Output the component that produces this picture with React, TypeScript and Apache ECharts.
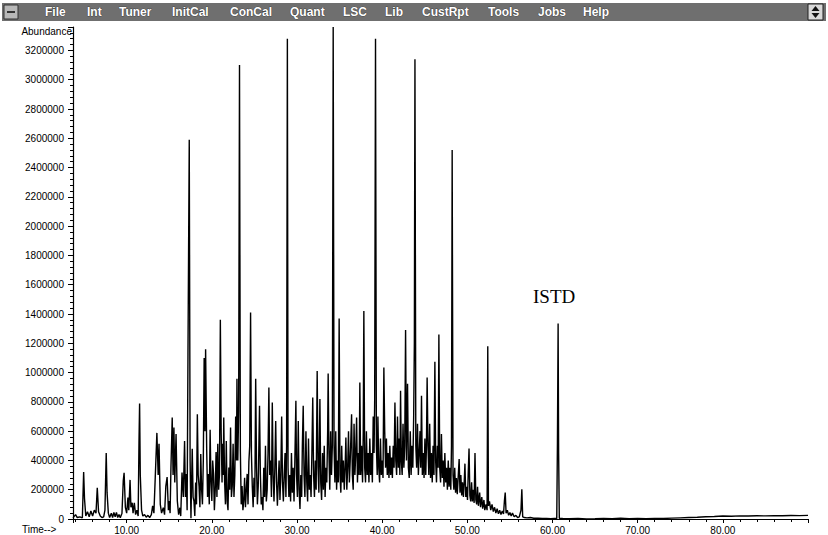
import React, { useEffect, useRef } from "react";
import * as echarts from "echarts";

// Total ion chromatogram: [retention time (min), abundance]
const traceEarly: number[][] = [
  [3.7, 8000], [4.0, 30000], [4.2, 10000], [4.5, 15000], [4.8, 8000], [4.95, 321000], [5.05, 140000], [5.2, 20000],
  [5.4, 50000], [5.6, 15000], [5.8, 55000], [6.0, 20000], [6.2, 60000], [6.4, 40000], [6.55, 214000], [6.7, 50000],
  [6.9, 20000], [7.1, 10000], [7.3, 15000], [7.45, 60000], [7.6, 451000], [7.7, 180000], [7.85, 40000], [8.0, 10000],
  [8.2, 40000], [8.35, 10000], [8.5, 45000], [8.65, 15000], [8.8, 45000], [8.95, 10000], [9.1, 30000], [9.25, 8000],
  [9.45, 40000], [9.6, 260000], [9.7, 315000], [9.85, 80000], [10.0, 40000], [10.15, 146000], [10.25, 60000],
  [10.4, 267000], [10.5, 80000], [10.65, 111000], [10.75, 40000], [10.9, 111000], [11.05, 30000], [11.2, 60000],
  [11.35, 20000], [11.45, 533000], [11.52, 788000], [11.6, 300000], [11.75, 60000], [11.9, 20000], [12.1, 30000],
  [12.3, 12000], [12.5, 25000], [12.7, 10000], [12.9, 30000],
];
const trace13to20: number[][] = [
  [13.05, 89000], [13.2, 40000], [13.4, 351000], [13.55, 588000], [13.7, 300000], [13.8, 513000], [13.95, 100000],
  [14.1, 40000], [14.3, 77000], [14.45, 30000], [14.6, 225000], [14.75, 287000], [14.9, 60000], [15.0, 123000],
  [15.1, 40000], [15.2, 351000], [15.35, 693000], [15.45, 300000], [15.55, 624000], [15.65, 250000], [15.8, 581000],
  [15.95, 123000], [16.1, 30000], [16.25, 77000], [16.35, 20000], [16.5, 317000], [16.65, 150000], [16.8, 533000],
  [16.9, 150000], [17.0, 308000], [17.1, 60000], [17.2, 1126000], [17.35, 2590000], [17.45, 400000], [17.55, 5000],
  [17.7, 479000], [17.8, 150000], [17.9, 123000], [18.0, 20000], [18.1, 250000], [18.2, 100000], [18.3, 716000],
  [18.4, 300000], [18.5, 225000], [18.6, 80000], [18.7, 444000], [18.8, 200000], [18.9, 100000], [19.0, 400000],
  [19.1, 1100000], [19.2, 600000], [19.27, 1160000], [19.4, 465000], [19.5, 150000], [19.6, 308000], [19.7, 100000],
  [19.8, 609000], [19.9, 250000], [20.0, 123000],
];
const trace20to26: number[][] = [
  [20.1, 400000], [20.2, 308000], [20.3, 60000], [20.4, 198000], [20.5, 458000], [20.6, 150000], [20.7, 513000],
  [20.8, 200000], [20.9, 308000], [21.0, 1360000], [21.1, 581000], [21.2, 250000], [21.25, 513000], [21.35, 300000],
  [21.4, 693000], [21.5, 260000], [21.6, 100000], [21.7, 533000], [21.8, 123000], [21.9, 60000], [22.0, 351000],
  [22.1, 200000], [22.2, 624000], [22.3, 150000], [22.4, 225000], [22.5, 513000], [22.6, 150000], [22.7, 300000],
  [22.8, 700000], [22.9, 400000], [22.95, 957000], [23.05, 400000], [23.15, 738000], [23.25, 3100000], [23.35, 465000],
  [23.45, 100000], [23.55, 225000], [23.65, 60000], [23.75, 123000], [23.85, 282000], [23.95, 80000], [24.05, 198000],
  [24.15, 308000], [24.25, 100000], [24.35, 390000], [24.45, 500000], [24.55, 1410000], [24.65, 444000],
  [24.75, 225000], [24.85, 80000], [24.95, 282000], [25.05, 150000], [25.15, 957000], [25.25, 351000], [25.35, 100000],
  [25.45, 225000], [25.6, 773000], [25.7, 308000], [25.8, 100000], [25.9, 150000],
];
const trace26to30: number[][] = [
  [26.0, 60000], [26.1, 350000], [26.2, 150000], [26.3, 500000], [26.4, 120000], [26.5, 200000], [26.6, 450000],
  [26.7, 898000], [26.8, 300000], [26.9, 400000], [27.0, 150000], [27.1, 795000], [27.2, 300000], [27.3, 120000],
  [27.4, 350000], [27.5, 670000], [27.6, 250000], [27.7, 90000], [27.8, 250000], [27.9, 400000], [28.0, 130000],
  [28.1, 300000], [28.2, 700000], [28.3, 250000], [28.4, 120000], [28.5, 300000], [28.6, 450000], [28.7, 150000],
  [28.78, 500000], [28.87, 3280000], [28.95, 350000], [29.05, 150000], [29.15, 300000], [29.25, 120000],
  [29.35, 450000], [29.45, 180000], [29.55, 350000], [29.65, 120000], [29.75, 400000], [29.87, 807000],
  [29.95, 300000], [30.05, 150000], [30.15, 670000], [30.25, 200000], [30.35, 68000], [30.45, 300000],
];
const trace30to38: number[][] = [
  [30.55, 150000], [30.63, 500000], [30.73, 773000], [30.83, 300000], [30.93, 150000], [31.05, 600000],
  [31.15, 250000], [31.25, 120000], [31.35, 550000], [31.45, 200000], [31.55, 300000], [31.65, 150000],
  [31.75, 450000], [31.85, 829000], [31.95, 300000], [32.05, 150000], [32.15, 400000], [32.25, 200000],
  [32.37, 1010000], [32.47, 350000], [32.57, 180000], [32.69, 820000], [32.79, 250000], [32.89, 130000],
  [33.0, 450000], [33.1, 200000], [33.2, 500000], [33.3, 150000], [33.4, 350000], [33.5, 250000], [33.6, 600000],
  [33.66, 994000], [33.75, 450000], [33.85, 200000], [33.95, 600000], [34.05, 300000], [34.15, 500000],
  [34.25, 3360000], [34.35, 500000], [34.45, 250000], [34.55, 600000], [34.65, 200000], [34.75, 400000],
  [34.85, 250000], [34.95, 1370000], [35.05, 300000], [35.15, 180000], [35.25, 500000], [35.35, 250000],
  [35.45, 400000], [35.55, 200000], [35.65, 350000], [35.74, 556000], [35.85, 200000], [35.95, 350000],
  [36.05, 600000], [36.15, 250000], [36.25, 400000], [36.41, 716000], [36.5, 300000], [36.6, 200000],
  [36.7, 650000], [36.8, 300000], [36.9, 450000], [37.0, 693000], [37.1, 250000], [37.2, 450000], [37.3, 300000],
  [37.38, 932000], [37.48, 300000], [37.58, 500000], [37.7, 250000], [37.78, 600000], [37.85, 1420000],
  [37.95, 350000],
];
const trace38to45: number[][] = [
  [38.05, 250000], [38.15, 600000], [38.25, 300000], [38.35, 450000], [38.45, 250000], [38.55, 550000],
  [38.65, 300000], [38.75, 450000], [38.85, 250000], [38.95, 700000], [39.05, 450000], [39.12, 800000],
  [39.22, 3280000], [39.32, 500000], [39.42, 300000], [39.5, 700000], [39.6, 350000], [39.7, 250000],
  [39.8, 550000], [39.9, 300000], [40.0, 400000], [40.1, 280000], [40.2, 1035000], [40.3, 600000], [40.4, 350000],
  [40.5, 550000], [40.6, 300000], [40.7, 450000], [40.8, 280000], [40.9, 500000], [41.0, 300000], [41.1, 420000],
  [41.2, 280000], [41.3, 500000], [41.4, 350000], [41.5, 795000], [41.6, 400000], [41.7, 300000], [41.8, 700000],
  [41.9, 350000], [42.0, 550000], [42.08, 300000], [42.16, 875000], [42.25, 400000], [42.35, 300000],
  [42.45, 650000], [42.55, 350000], [42.65, 500000], [42.75, 1290000], [42.85, 400000], [42.98, 923000],
  [43.08, 350000], [43.18, 280000], [43.3, 600000], [43.4, 300000], [43.5, 500000], [43.6, 350000], [43.7, 700000],
  [43.78, 1200000], [43.85, 3140000], [43.95, 500000], [44.05, 350000], [44.15, 650000], [44.25, 300000],
  [44.35, 450000], [44.45, 600000], [44.53, 350000], [44.62, 841000], [44.72, 300000], [44.82, 450000],
  [44.92, 280000],
];
const trace45to52: number[][] = [
  [45.02, 550000], [45.12, 300000], [45.2, 500000], [45.28, 966000], [45.38, 500000], [45.48, 300000],
  [45.58, 650000], [45.68, 280000], [45.78, 450000], [45.88, 250000], [45.98, 500000], [46.08, 300000],
  [46.19, 1074000], [46.28, 400000], [46.38, 250000], [46.48, 500000], [46.58, 350000], [46.66, 1260000],
  [46.76, 350000], [46.86, 250000], [46.96, 581000], [47.06, 280000], [47.16, 400000], [47.26, 220000],
  [47.36, 450000], [47.46, 250000], [47.56, 350000], [47.66, 200000], [47.76, 400000], [47.86, 220000],
  [47.96, 350000], [48.06, 200000], [48.14, 500000], [48.22, 2520000], [48.32, 300000], [48.42, 200000],
  [48.52, 350000], [48.62, 180000], [48.72, 280000], [48.82, 170000], [48.94, 300000], [49.04, 410000],
  [49.14, 180000], [49.24, 300000], [49.34, 160000], [49.44, 250000], [49.54, 150000], [49.64, 260000],
  [49.72, 378000], [49.82, 150000], [49.92, 220000], [50.02, 130000], [50.1, 300000], [50.2, 481000],
  [50.3, 160000], [50.4, 120000], [50.5, 250000], [50.6, 120000], [50.7, 200000], [50.8, 110000], [50.9, 450000],
  [51.0, 130000], [51.1, 100000], [51.2, 220000], [51.3, 90000], [51.45, 180000], [51.55, 80000], [51.7, 150000],
  [51.8, 70000], [51.95, 130000], [52.05, 60000], [52.2, 100000], [52.32, 60000], [52.4, 1180000], [52.48, 90000],
];
const trace52to61: number[][] = [
  [52.6, 120000], [52.75, 60000], [52.9, 100000], [53.05, 50000], [53.2, 80000], [53.35, 40000], [53.5, 70000],
  [53.65, 35000], [53.8, 60000], [53.95, 30000], [54.1, 55000], [54.25, 35000], [54.35, 120000], [54.45, 180000],
  [54.55, 40000], [54.7, 60000], [54.85, 25000], [55.0, 45000], [55.15, 20000], [55.3, 40000], [55.5, 15000],
  [55.7, 25000], [55.9, 10000], [56.1, 15000], [56.3, 60000], [56.4, 203000], [56.5, 15000], [56.7, 10000],
  [57.0, 8000], [57.4, 10000], [57.8, 5000], [58.3, 6000], [58.8, 3000], [59.3, 4000], [59.8, 2000], [60.2, 3000],
  [60.5, 3000], [60.58, 520000], [60.66, 1335000], [60.72, 450000], [60.8, 5000],
];
const traceTail: number[][] = [
  [61.2, 3000], [62.0, 2000], [63.0, 3000], [64.0, 1000], [65.0, 2000], [66.0, 4000], [67.0, 2000], [68.0, 5000],
  [69.0, 2000], [70.0, 3000], [71.0, 2000], [72.0, 4000], [73.0, 3000], [74.0, 6000], [75.0, 8000], [76.0, 10000],
  [77.0, 12000], [78.0, 15000], [79.0, 17000], [80.0, 20000], [81.0, 19000], [82.0, 21000], [83.0, 20000],
  [84.0, 22000], [85.0, 21000], [86.0, 23000], [87.0, 22000], [88.0, 24000], [89.0, 23000], [90.0, 25000],
];

const menuItems = ["File", "Int", "Tuner", "InitCal", "ConCal", "Quant", "LSC", "Lib", "CustRpt", "Tools", "Jobs", "Help"];
const menuX = [45, 87, 119, 172, 230, 290, 343, 385, 422, 488, 538, 583];

const Y_MAX = 3360000;
const T_MIN = 3.7;
const T_MAX = 90;

export default function App() {
  const ref = useRef<HTMLDivElement>(null);
  useEffect(() => {
    if (!ref.current) return;
    const chart = echarts.init(ref.current, null, { renderer: "svg" });
    const data = [
      ...traceEarly, ...trace13to20, ...trace20to26, ...trace26to30, ...trace30to38,
      ...trace38to45, ...trace45to52, ...trace52to61, ...traceTail,
    ];
    const font = "Liberation Sans, Arial, sans-serif";
    chart.setOption({
      animation: false,
      backgroundColor: "#ffffff",
      grid: { left: 73, right: 20, top: 27, bottom: 16, containLabel: false },
      xAxis: {
        type: "value",
        min: T_MIN,
        max: T_MAX,
        splitNumber: 9,
        minInterval: 10,
        maxInterval: 10,
        axisLine: { show: true, lineStyle: { color: "#000", width: 1.2 } },
        axisTick: { show: true, length: 4, lineStyle: { color: "#000" } },
        minorTick: { show: true, splitNumber: 5, length: 3, lineStyle: { color: "#000" } },
        splitLine: { show: false },
        axisLabel: {
          color: "#000",
          fontSize: 10,
          fontFamily: font,
          margin: 6,
          showMinLabel: false,
          showMaxLabel: false,
          formatter: (v: number) => v.toFixed(2),
        },
      },
      yAxis: {
        type: "value",
        min: 0,
        max: Y_MAX,
        interval: 200000,
        axisLine: { show: true, lineStyle: { color: "#000", width: 1.2 } },
        axisTick: { show: true, length: 5, lineStyle: { color: "#000" } },
        minorTick: { show: true, splitNumber: 5, length: 3, lineStyle: { color: "#000" } },
        splitLine: { show: false },
        axisLabel: {
          color: "#000",
          fontSize: 10,
          fontFamily: font,
          margin: 9,
          showMaxLabel: false,
          formatter: (v: number) => String(v),
        },
      },
      series: [
        {
          type: "line",
          data,
          symbol: "none",
          lineStyle: { color: "#000", width: 1.4 },
          z: 3,
        },
      ],
      graphic: [
        {
          type: "rect",
          shape: { x: 2, y: 3, width: 824, height: 18 },
          style: { fill: "#6f6f6f" },
          silent: true,
        },
        {
          type: "rect",
          shape: { x: 4, y: 5, width: 14, height: 14 },
          style: { fill: "#b8b8b8", stroke: "#333", lineWidth: 1 },
        },
        {
          type: "rect",
          shape: { x: 7, y: 11, width: 8, height: 2 },
          style: { fill: "#333" },
        },
        {
          type: "rect",
          shape: { x: 808, y: 4, width: 15, height: 16 },
          style: { fill: "#d8d8d8", stroke: "#222", lineWidth: 1 },
        },
        {
          type: "polygon",
          shape: { points: [[815.5, 6], [811.5, 11], [819.5, 11]] },
          style: { fill: "#111" },
        },
        {
          type: "polygon",
          shape: { points: [[815.5, 18], [811.5, 13], [819.5, 13]] },
          style: { fill: "#111" },
        },
        ...menuItems.map((m, i) => ({
          type: "text",
          x: menuX[i],
          y: 12,
          style: {
            text: m,
            fill: "#ffffff",
            font: `bold 12px ${font}`,
            textVerticalAlign: "middle",
            stroke: "#222",
            lineWidth: 0.6,
          },
        })),
        {
          type: "text",
          x: 72,
          y: 31,
          style: { text: "Abundance", fill: "#000", font: `10px ${font}`, textAlign: "right", textVerticalAlign: "middle" },
        },
        {
          type: "text",
          x: 22,
          y: 529,
          style: { text: "Time-->", fill: "#000", font: `10px ${font}`, textAlign: "left", textVerticalAlign: "middle" },
        },
        {
          type: "text",
          x: 533,
          y: 306,
          style: {
            text: "ISTD",
            fill: "#000",
            font: `19px "Liberation Serif", "Times New Roman", serif`,
            textAlign: "left",
            textVerticalAlign: "bottom",
          },
        },
      ],
    });
    return () => chart.dispose();
  }, []);
  return (
    <div
      ref={ref}
      style={{ position: "fixed", left: 0, top: 0, width: 828, height: 535, background: "#fff" }}
    />
  );
}
